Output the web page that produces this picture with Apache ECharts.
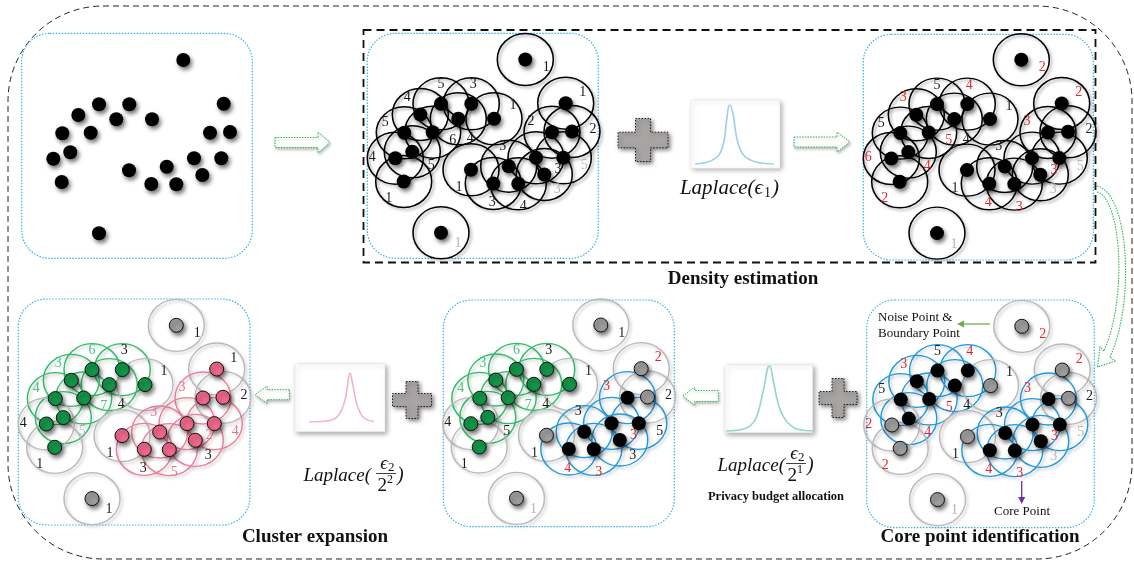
<!DOCTYPE html>
<html><head><meta charset="utf-8">
<script src="https://cdn.jsdelivr.net/npm/echarts@6/dist/echarts.min.js"></script>
<style>html,body{margin:0;padding:0;background:#fff}#c{width:1134px;height:567px}</style>
</head><body><div id="c"></div>
<script>
// ---------- data ----------
const pointX = [183.3, 99, 129.3, 223.7, 78.3, 116.3, 152, 62.3, 90.7, 210, 230, 70.3, 53.3, 129, 166.7, 194, 221.3, 61.7, 151.3, 176.3, 202.3, 99];
const pointY = [60, 104.3, 104.3, 103.7, 115, 119.3, 119.3, 133.3, 132.7, 132.7, 132, 152.3, 158.7, 170.3, 166.7, 158.3, 158.3, 182, 184, 184.3, 175, 233.3];
const countsTrue   = [1,5,3,1,4,4,1,5,6,2,2,5,4,1,3,3,5,1,3,4,3,1];
const countsNoisy  = [2,5,4,2,3,4,1,5,5,3,2,4,6,1,3,3,5,2,4,3,3,1];
const countsCore   = [2,5,4,2,3,4,1,5,5,3,2,4,2,1,3,3,5,2,4,3,3,1];
const countsAlloc  = [1,6,3,2,3,4,1,4,7,3,2,5,4,1,3,3,5,1,4,3,3,1];
const countsExpand = [1,6,3,1,3,4,1,4,7,3,2,5,4,1,3,2,4,1,3,5,3,1];
const isCore    = [0,1,1,0,1,1,0,1,1,1,0,1,0,0,1,1,1,0,1,1,1,0];
const clusterId = [0,1,1,2,1,1,1,1,1,2,2,1,1,2,2,2,2,1,2,2,2,0];
// label tone codes: k black, r red (changed), s grey, g green, p pink
const tonesTrue   = ['k','k','k','k','k','k','k','k','k','k','k','k','k','k','k','k','s','k','k','k','s','s'];
const tonesNoisy  = ['r','k','r','r','r','k','k','k','r','r','k','r','r','k','k','r','s','r','r','r','s','s'];
const tonesAlloc  = ['k','g','k','r','g','k','k','g','g','r','k','k','k','k','k','r','k','k','r','r','k','s'];
const tonesExpand = ['k','g','k','k','g','k','k','g','g','p','k','s','k','k','p','p','p','k','k','p','k','k'];
const laplaceBlueX  = [0,0.15,0.25,0.32,0.37,0.40,0.44,0.48,0.51,0.55,0.61,0.70,0.82,1];
const laplaceBlueY  = [0,0.03,0.09,0.19,0.41,0.74,1,0.86,0.58,0.33,0.16,0.07,0.02,0];
const laplacePinkX  = [0,0.27,0.40,0.47,0.54,0.59,0.63,0.67,0.72,0.78,0.86,1];
const laplacePinkY  = [0,0.02,0.07,0.17,0.38,0.72,1,0.79,0.45,0.21,0.07,0.01];
const laplaceGreenX = [0,0.12,0.24,0.32,0.37,0.43,0.50,0.55,0.60,0.66,0.74,0.85,1];
const laplaceGreenY = [0,0.01,0.05,0.14,0.29,0.63,1,0.73,0.42,0.22,0.09,0.02,0];

// ---------- layout ----------
const labelOffsets = [[21,8],[0,-19],[2,-19],[17,-11],[-13,-17],[12,20],[19,-13],[-19,-10],[20,8],[-21,-11],[21,-2],[19,14],[-23,-1],[-12,18],[-6,-20],[22,12],[21,8],[-15,17],[-1,19],[5,23],[13,15],[17,11]];
const panels = [
  {box:[21.7,33.3,230.6,225], shift:[0,0], mode:'plain'},
  {box:[367.3,33.3,231,225], shift:[342,-0.5], mode:'density', counts:countsTrue, tones:tonesTrue},
  {box:[863.3,34.3,230,225.7], shift:[838,-0.2], mode:'density', counts:countsNoisy, tones:tonesNoisy},
  {box:[866.7,300,227.6,227.7], shift:[838.5,266.3], mode:'core', counts:countsCore, tones:tonesNoisy},
  {box:[443.3,300,231,226.7], shift:[417.5,265], mode:'alloc', counts:countsAlloc, tones:tonesAlloc},
  {box:[18.3,299,231.7,226], shift:[-7,265.3], mode:'expand', counts:countsExpand, tones:tonesExpand}
];
const SERIF = '"Liberation Serif","Times New Roman","DejaVu Serif",serif';
const toneColor = {k:'#1a1a1a', r:'#e3262b', s:'#b4b4b4', g:'#45c184', p:'#ee6f90'};
const dotFill = {black:'#000000', gray:'#9d9d9d', green:'#139548', pink:'#f0678a'};
const ringColor = {black:'#000000', gray:'#b9b9b9', green:'#2dbd66', blue:'#1c9ae0', pink:'#f07b98'};

function styleFor(mode, i) {
  const core = isCore[i], cl = clusterId[i];
  if (mode === 'plain' || mode === 'density') return {dot:'black', ring:'black'};
  if (mode === 'core') return core ? {dot:'black', ring:'blue'} : {dot:'gray', ring:'gray'};
  if (cl === 0) return {dot:'gray', ring:'gray'};
  if (cl === 1) return {dot:'green', ring: core ? 'green' : 'gray'};
  if (mode === 'alloc') return core ? {dot:'black', ring:'blue'} : {dot:'gray', ring:'gray'};
  return {dot:'pink', ring: core ? 'pink' : 'gray'};
}

const grids = [], xAxes = [], yAxes = [], series = [];
panels.forEach((p, pi) => {
  const [bx, by, bw, bh] = p.box, [sx, sy] = p.shift;
  grids.push({left:bx, top:by, width:bw, height:bh, show:false});
  xAxes.push({type:'value', gridIndex:pi, min:bx - sx, max:bx - sx + bw, show:false});
  yAxes.push({type:'value', gridIndex:pi, inverse:true, min:by - sy, max:by - sy + bh, show:false});
  if (p.mode !== 'plain') {
    series.push({
      type:'scatter', xAxisIndex:pi, yAxisIndex:pi, clip:false, silent:true, z:3,
      symbol:'circle', symbolSize:[56,52],
      data: pointX.map((x, i) => {
        const s = styleFor(p.mode, i);
        return {value:[x, pointY[i]], itemStyle:{opacity:1, color:'rgba(0,0,0,0)', borderColor:ringColor[s.ring],
          borderWidth: s.ring === 'black' ? 1.5 : 1.4, shadowBlur:3, shadowOffsetX:2, shadowOffsetY:2,
          shadowColor: s.ring === 'black' ? 'rgba(0,0,0,0.35)' : 'rgba(0,0,0,0.22)'}};
      })
    });
  }
  series.push({
    type:'scatter', xAxisIndex:pi, yAxisIndex:pi, clip:false, silent:true, z:4,
    symbol:'circle', symbolSize:14,
    data: pointX.map((x, i) => {
      const s = styleFor(p.mode, i);
      const item = {value:[x, pointY[i]], itemStyle:{opacity:1, color:dotFill[s.dot], borderColor:'#111', borderWidth: s.dot === 'black' ? 0 : 1,
        shadowBlur:4, shadowOffsetX:2, shadowOffsetY:3, shadowColor:'rgba(0,0,0,0.55)'}};
      if (p.counts) {
        item.label = {show:true, position:'inside', formatter:String(p.counts[i]), offset:labelOffsets[i],
          color:toneColor[p.tones[i]], fontFamily:SERIF, fontSize:14};
      }
      return item;
    })
  });
});

// Laplace curves
const curves = [
  {x:laplaceBlueX, y:laplaceBlueY, rect:[695,105,79,59], color:'#9ccfe6'},
  {x:laplacePinkX, y:laplacePinkY, rect:[309,373,65,49], color:'#f2b5c4'},
  {x:laplaceGreenX, y:laplaceGreenY, rect:[726,366,87,65], color:'#8ed9bf'}
];
curves.forEach((c, k) => {
  const gi = panels.length + k;
  grids.push({left:c.rect[0], top:c.rect[1], width:c.rect[2], height:c.rect[3], show:false});
  xAxes.push({type:'value', gridIndex:gi, min:0, max:1, show:false});
  yAxes.push({type:'value', gridIndex:gi, min:0, max:1, show:false});
  series.push({type:'line', xAxisIndex:gi, yAxisIndex:gi, smooth:true, symbol:'none', silent:true, z:5,
    lineStyle:{color:c.color, width:1.6}, data:c.x.map((v, i) => [v, c.y[i]])});
});

// ---------- decorations ----------
const g = [];
g.push({type:'rect', z:0, shape:{x:8, y:6, width:1124, height:553, r:95},
  style:{fill:'none', stroke:'#222', lineWidth:1, lineDash:[6,4]}});
g.push({type:'rect', z:1, shape:{x:363.5, y:30, width:732, height:232.5},
  style:{fill:'none', stroke:'#111', lineWidth:1.8, lineDash:[8,5]}});
panels.forEach(p => {
  g.push({type:'rect', z:1, shape:{x:p.box[0], y:p.box[1], width:p.box[2], height:p.box[3], r:28},
    style:{fill:'none', stroke:'#35b3e8', lineWidth:1.2, lineDash:[1.5,1.5]}});
});
function plus(cx, cy, w, h, tx, ty) {
  return {type:'polygon', z:2, shape:{points:[[cx-tx,cy-h/2],[cx+tx,cy-h/2],[cx+tx,cy-ty],[cx+w/2,cy-ty],[cx+w/2,cy+ty],[cx+tx,cy+ty],[cx+tx,cy+h/2],[cx-tx,cy+h/2],[cx-tx,cy+ty],[cx-w/2,cy+ty],[cx-w/2,cy-ty],[cx-tx,cy-ty]]},
    style:{fill:'#a8a4a4', stroke:'#222', lineWidth:1, lineDash:[1.5,1.5], shadowBlur:4, shadowOffsetX:2, shadowOffsetY:2, shadowColor:'rgba(0,0,0,0.5)'}};
}
g.push(plus(643,140,50,43,7.5,7.8));
g.push(plus(412,400,39,37,6,6.5));
g.push(plus(838,398,38,39,6,6.5));
function arrow(tail, tip, cy, sh, hh, hl) {
  const d = tip > tail ? 1 : -1, b = tip - d * hl;
  return {type:'polygon', z:2, shape:{points:[[tail,cy-sh/2],[b,cy-sh/2],[b,cy-hh/2],[tip,cy],[b,cy+hh/2],[b,cy+sh/2],[tail,cy+sh/2]]},
    style:{fill:'#fff', stroke:'#2fb457', lineWidth:1, lineDash:[1.5,1.2], shadowBlur:3, shadowOffsetX:1, shadowOffsetY:2, shadowColor:'rgba(0,0,0,0.25)'}};
}
g.push(arrow(275,330,142.5,10,21,12));
g.push(arrow(794,850,142,10,20,13));
g.push(arrow(289.3,255,394.7,10,17,12));
g.push(arrow(718.3,682.7,396,11,18,12));
const curveStyle = {fill:'none', stroke:'#2fb457', lineWidth:1.1, lineDash:[1.5,1.2]};
g.push({type:'bezierCurve', z:2, shape:{x1:1097,y1:186,cpx1:1128,cpy1:192,cpx2:1136,cpy2:300,x2:1110,y2:357}, style:curveStyle});
g.push({type:'bezierCurve', z:2, shape:{x1:1097,y1:192,cpx1:1121,cpy1:198,cpx2:1128,cpy2:296,x2:1104,y2:351}, style:curveStyle});
g.push({type:'polyline', z:2, shape:{points:[[1104,351],[1100,347],[1097.5,367],[1115,361],[1110,357]]}, style:curveStyle});
// Laplace boxes
[[690.7,100,89.3,68.3],[295,364,90,67.7],[725,365,87.7,67.7]].forEach(r => {
  g.push({type:'rect', z:1, shape:{x:r[0], y:r[1], width:r[2], height:r[3]},
    style:{fill:'#fff', stroke:'#e6e6e6', lineWidth:0.5, shadowBlur:5, shadowOffsetX:2, shadowOffsetY:2, shadowColor:'rgba(0,0,0,0.35)'}});
});
function txt(text, x, y, size, opts) {
  opts = opts || {};
  return {type:'text', z:10, style:{text:text, x:x, y:y, fontFamily:opts.family || SERIF, fontSize:size,
    fontWeight:opts.weight || 'normal', fontStyle:opts.style || 'normal', fill:opts.color || '#111',
    align:opts.align || 'center', textAlign:opts.align || 'center', verticalAlign:'middle', textVerticalAlign:'middle'}};
}
g.push(txt('Laplace(\u03F5', 763, 188, 21, {style:'italic', align:'right'}));
g.push(txt('1', 764, 193, 14, {align:'left'}));
g.push(txt(')', 772, 188, 21, {style:'italic', align:'left'}));
g.push(txt('Density estimation', 743, 279, 19, {weight:'bold'}));
g.push(txt('Cluster expansion', 315, 537, 19, {weight:'bold'}));
g.push(txt('Core point identification', 980, 537, 19, {weight:'bold'}));
g.push(txt('Privacy budget allocation', 776, 497, 12.5, {weight:'bold'}));
// fraction labels
function fraction(lx, cy, fx, sup) {
  g.push(txt('Laplace(', lx, cy, 19, {style:'italic', align:'right'}));
  g.push(txt('\u03F5', fx + 2, cy - 12, 19, {style:'italic', align:'right'}));
  g.push(txt('2', fx + 2, cy - 8, 13, {align:'left'}));
  g.push({type:'line', z:10, shape:{x1:fx - 10, y1:cy - 2.5, x2:fx + 10, y2:cy - 2.5}, style:{stroke:'#111', lineWidth:0.8}});
  g.push(txt('2', fx + 1, cy + 10, 19, {align:'right'}));
  g.push(txt(sup, fx + 1, cy + 4, 12, {align:'left'}));
  g.push(txt(')', fx + 11, cy, 20, {style:'italic', align:'left'}));
}
fraction(371, 476, 386, '2');
fraction(785, 466, 796, '1');
// annotations
g.push(txt('Noise Point &', 878, 318, 13, {align:'left'}));
g.push(txt('Boundary Point', 878, 334, 13, {align:'left'}));
g.push({type:'line', z:10, shape:{x1:990,y1:324,x2:962,y2:324}, style:{stroke:'#70ad47', lineWidth:1.3}});
g.push({type:'polygon', z:10, shape:{points:[[957,324],[964,320.5],[964,327.5]]}, style:{fill:'#70ad47'}});
g.push(txt('Core Point', 1022, 512, 13));
g.push({type:'line', z:10, shape:{x1:1021.7,y1:481,x2:1021.7,y2:498}, style:{stroke:'#7030a0', lineWidth:1.3}});
g.push({type:'polygon', z:10, shape:{points:[[1021.7,504],[1018.2,497],[1025.2,497]]}, style:{fill:'#7030a0'}});

const chart = echarts.init(document.getElementById('c'));
chart.setOption({
  animation:false,
  backgroundColor:'#fff',
  grid:grids, xAxis:xAxes, yAxis:yAxes, series:series, graphic:{elements:g}
});
</script></body></html>
